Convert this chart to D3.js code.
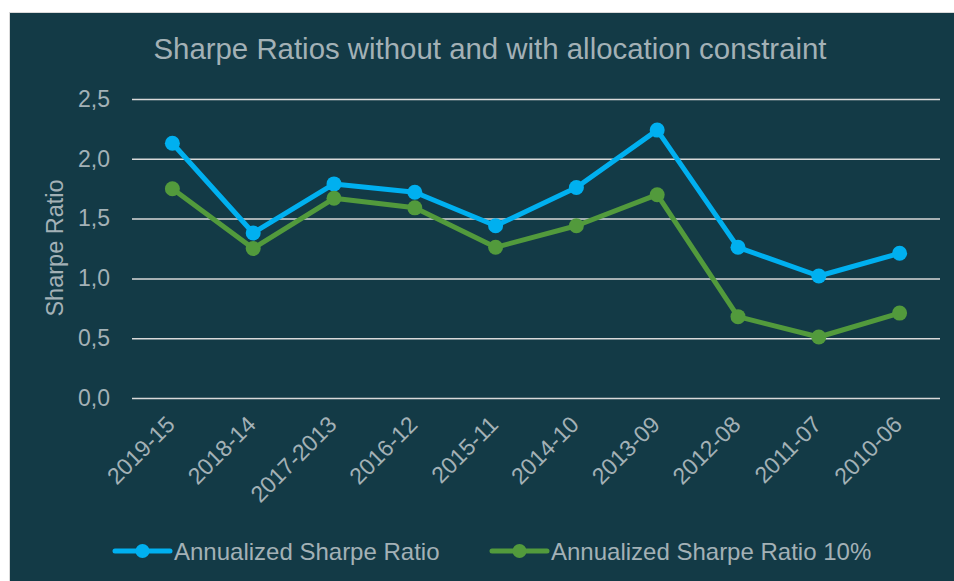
<!DOCTYPE html>
<html>
<head>
<meta charset="utf-8">
<script src="https://cdn.jsdelivr.net/npm/d3@7"></script>
<style>
  body { margin: 0; background: #ffffff; }
  text { font-family: "Liberation Sans", Arial, sans-serif; }
</style>
</head>
<body>
<div id="chart"></div>
<script>
// data
var categories = ["2019-15", "2018-14", "2017-2013", "2016-12", "2015-11",
                  "2014-10", "2013-09", "2012-08", "2011-07", "2010-06"];
var sharpe = [2.13, 1.38, 1.79, 1.72, 1.44, 1.76, 2.24, 1.26, 1.02, 1.21];
var sharpe10 = [1.75, 1.25, 1.67, 1.59, 1.26, 1.44, 1.70, 0.68, 0.51, 0.71];
var seriesNames = ["Annualized Sharpe Ratio", "Annualized Sharpe Ratio 10%"];
var seriesColors = ["#00b0f0", "#529a3c"];
var yTicks = [0, 0.5, 1, 1.5, 2, 2.5];

var W = 954, H = 581;
var textColor = "#a3b1b6";

var svg = d3.select("#chart")
  .append("svg")
    .attr("width", W)
    .attr("height", H);

// panel
svg.append("rect")
  .attr("x", 9.5).attr("y", 12.5)
  .attr("width", W).attr("height", H)
  .attr("fill", "#133a46")
  .attr("stroke", "#d9d9d9")
  .attr("stroke-width", 1);

var margin = {top: 99, left: 132, right: 14, bottom: 183},
    width = W - margin.left - margin.right,
    height = H - margin.top - margin.bottom;

var g = svg.append("g")
  .attr("transform", "translate(" + margin.left + "," + margin.top + ")");

// title
svg.append("text")
  .attr("x", 490).attr("y", 59)
  .attr("text-anchor", "middle")
  .attr("fill", textColor)
  .style("font-size", "29.4px")
  .text("Sharpe Ratios without and with allocation constraint");

var x = d3.scaleBand()
  .domain(categories)
  .range([0, width]);

var y = d3.scaleLinear()
  .domain([0, 2.5])
  .range([height, 0]);

// gridlines + y labels
var yAxis = g.append("g")
  .call(d3.axisLeft(y)
    .tickValues(yTicks)
    .tickSize(-width)
    .tickPadding(22)
    .tickFormat(function(d) { return d3.format(".1f")(d).replace(".", ","); }));
yAxis.select(".domain").remove();
yAxis.selectAll(".tick line")
  .attr("stroke", "#d9d9d9")
  .attr("stroke-width", 1.5);
yAxis.selectAll(".tick text")
  .attr("fill", textColor)
  .style("font-size", "23px")
  .style("font-family", "'Liberation Sans', Arial, sans-serif");

// y axis title
svg.append("text")
  .attr("transform", "translate(63,248) rotate(-90)")
  .attr("text-anchor", "middle")
  .attr("fill", textColor)
  .style("font-size", "23.5px")
  .text("Sharpe Ratio");

// x labels
g.selectAll(".xlabel")
  .data(categories)
  .enter()
  .append("text")
    .attr("class", "xlabel")
    .attr("transform", function(d) {
      return "translate(" + (x(d) + x.bandwidth() / 2 + 4) + "," + (height + 28) + ") rotate(-45)";
    })
    .attr("text-anchor", "end")
    .attr("fill", textColor)
    .style("font-size", "23px")
    .text(function(d) { return d; });

// lines and markers
var allSeries = [sharpe, sharpe10];
var line = d3.line()
  .x(function(d, i) { return x(categories[i]) + x.bandwidth() / 2; })
  .y(function(d) { return y(d); });

allSeries.forEach(function(values, s) {
  g.append("path")
    .datum(values)
    .attr("fill", "none")
    .attr("stroke", seriesColors[s])
    .attr("stroke-width", 5)
    .attr("stroke-linejoin", "round")
    .attr("d", line);

  g.selectAll(".dot" + s)
    .data(values)
    .enter()
    .append("circle")
      .attr("cx", function(d, i) { return x(categories[i]) + x.bandwidth() / 2; })
      .attr("cy", function(d) { return y(d); })
      .attr("r", 7.5)
      .attr("fill", seriesColors[s]);
});

// legend
var legendX = [115, 492];
var legend = svg.selectAll(".legend")
  .data(seriesNames)
  .enter()
  .append("g")
    .attr("class", "legend")
    .attr("transform", function(d, i) { return "translate(" + legendX[i] + ",551)"; });

legend.append("line")
  .attr("x1", 0).attr("x2", 55)
  .attr("stroke", function(d, i) { return seriesColors[i]; })
  .attr("stroke-width", 5)
  .attr("stroke-linecap", "round");
legend.append("circle")
  .attr("cx", 27.5)
  .attr("r", 7)
  .attr("fill", function(d, i) { return seriesColors[i]; });
legend.append("text")
  .attr("x", 59).attr("y", 8.5)
  .attr("fill", textColor)
  .style("font-size", "24px")
  .text(function(d) { return d; });
</script>
</body>
</html>
